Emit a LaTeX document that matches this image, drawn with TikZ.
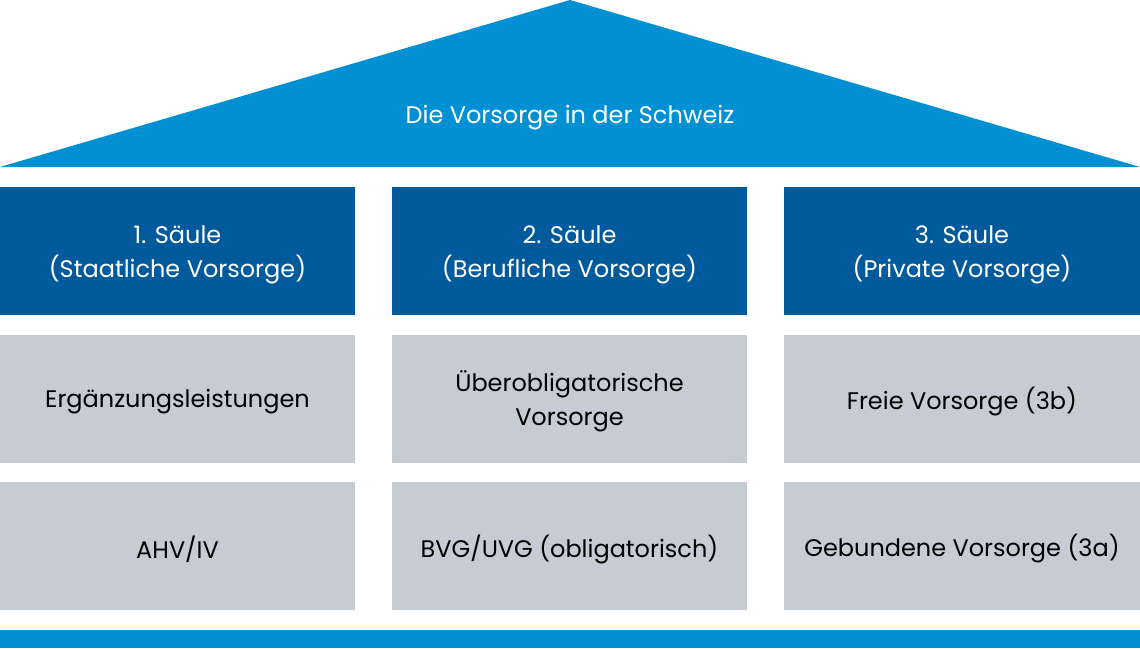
\documentclass[tikz,border=0pt]{standalone}
\usepackage{fontspec}
\setmainfont{Poppins}
\definecolor{roofblue}{HTML}{0090D3}
\definecolor{pillarblue}{HTML}{005A9C}
\definecolor{pillargrey}{HTML}{C5CCD3}
\begin{document}
\begin{tikzpicture}[x=1pt,y=-1pt,
  cell/.style={rectangle,inner sep=0pt,minimum width=355pt,minimum height=128pt,
    align=center,font=\fontsize{24}{34}\selectfont},
  head/.style={cell,fill=pillarblue,text=white},
  body/.style={cell,fill=pillargrey,text=black},
  lower/.style={label={[font=\fontsize{24}{34}\selectfont,align=center,#1]center:}}]
\useasboundingbox (0,0) rectangle (1140,648);
\fill[roofblue] (0,167) -- (570,0) -- (1140,167) -- cycle;
\node[text=white,font=\fontsize{24}{34}\selectfont] (title) at (570,118) {Die Vorsorge in der Schweiz};
\node[head,minimum width=355pt] (h1) at (177.5,251) {};
\node[head] (h2) at (569.5,251) {};
\node[head,minimum width=356pt] (h3) at (962,251) {};
\node[body] (a1) at (177.5,398.5) {};
\node[body] (a2) at (569.5,398.5) {};
\node[body,minimum width=356pt] (a3) at (962,398.5) {};
\node[body] (b1) at (177.5,546) {};
\node[body] (b2) at (569.5,546) {};
\node[body,minimum width=356pt] (b3) at (962,546) {};
\begin{scope}[every node/.style={align=center,font=\fontsize{24}{34}\selectfont,inner sep=0pt}]
\node[text=white] (t1) at ([yshift=-4pt]h1.center) {1. Säule\\(Staatliche Vorsorge)};
\node[text=white] (t2) at ([yshift=-4pt]h2.center) {2. Säule\\(Berufliche Vorsorge)};
\node[text=white] (t3) at ([yshift=-4pt]h3.center) {3. Säule\\(Private Vorsorge)};
\node (u1) at ([yshift=-3pt]a1.center) {Ergänzungsleistungen};
\node (u2) at ([yshift=-3pt]a2.center) {Überobligatorische\\Vorsorge};
\node (u3) at ([yshift=-3pt]a3.center) {Freie Vorsorge (3b)};
\node (v1) at ([yshift=-3pt]b1.center) {AHV/IV};
\node (v2) at ([yshift=-3pt]b2.center) {BVG/UVG (obligatorisch)};
\node (v3) at ([yshift=-3pt]b3.center) {Gebundene Vorsorge (3a)};
\end{scope}
\fill[roofblue] (0,630) rectangle (1140,648);
\end{tikzpicture}
\end{document}
